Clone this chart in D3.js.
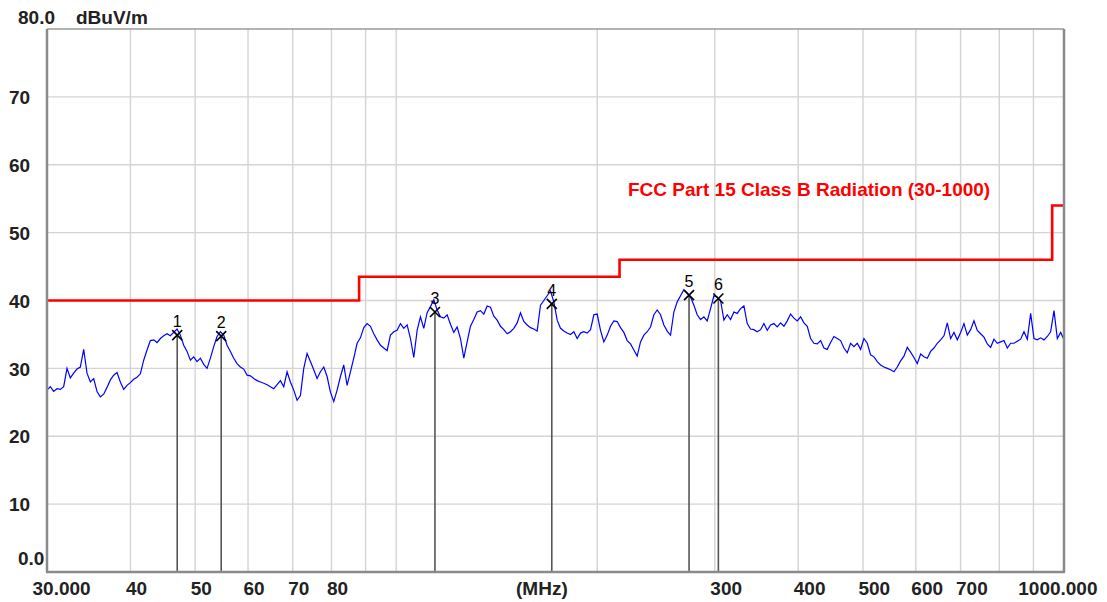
<!DOCTYPE html>
<html><head><meta charset="utf-8">
<script src="https://cdn.jsdelivr.net/npm/d3@7"></script>
<style>
html,body{margin:0;padding:0;background:#fff;}
svg{display:block;}
text{font-family:"Liberation Sans",Arial,sans-serif;}
</style></head>
<body>
<svg id="chart" width="1107" height="602"></svg>
<script>
// ---- data ----
const startFreq = 30, stopFreq = 1000;           // MHz sweep
const levelMin = 0, levelMax = 80;               // dBuV/m
const traceLevels = [
26.8,27.3,26.6,27.0,26.9,27.3,30.0,28.6,29.3,29.9,30.2,32.8,29.3,28.0,28.5,26.6,25.8,26.2,27.2,28.3,
29.0,29.4,28.0,26.9,27.5,27.9,28.4,28.7,29.2,31.2,32.7,34.1,34.2,33.8,34.4,34.8,35.1,34.8,35.3,35.8,
34.9,33.4,32.5,31.2,31.7,31.0,31.5,30.6,30.0,31.5,33.2,34.7,35.4,34.9,33.4,32.5,31.5,30.7,30.2,29.9,
29.0,28.9,28.5,28.2,28.0,27.8,27.6,27.3,27.0,27.6,28.2,27.3,29.5,28.0,26.8,25.3,26.0,30.0,32.2,31.0,
29.8,28.5,29.5,30.2,28.8,26.5,25.1,26.8,28.8,30.5,27.5,29.5,31.5,33.7,34.5,36.0,36.6,36.2,35.1,34.2,
33.4,33.0,32.6,34.9,35.4,35.6,36.6,35.9,36.4,34.4,31.6,35.6,37.6,35.9,38.2,39.1,40.1,38.6,37.6,37.4,
37.9,36.5,35.3,36.1,34.4,31.5,33.9,36.2,37.2,38.3,38.5,38.0,39.2,39.0,37.7,37.1,36.2,35.7,35.1,35.4,
35.9,36.7,38.2,36.9,36.4,36.0,35.8,35.5,39.3,40.0,40.7,41.4,39.8,37.1,35.9,35.5,35.2,35.0,35.4,34.4,
35.2,35.4,35.2,35.7,37.9,38.0,35.6,33.9,34.9,36.2,37.0,36.9,36.0,35.3,34.1,33.6,32.7,31.8,33.9,34.9,
35.4,36.1,37.9,38.6,37.9,36.4,35.5,34.9,38.3,39.8,40.7,41.6,41.1,40.5,39.3,37.9,37.2,37.6,37.0,38.8,
40.7,40.5,40.0,37.1,37.9,37.2,38.3,38.1,38.8,39.2,36.6,35.8,35.7,35.4,35.7,36.6,35.6,36.4,36.6,36.1,
36.7,36.2,37.0,38.0,37.4,37.0,37.6,36.7,36.2,34.4,33.7,33.6,34.1,33.0,32.8,33.8,34.7,34.4,34.1,33.0,
32.3,33.7,33.2,33.7,32.8,34.4,33.7,32.0,31.7,31.0,30.5,30.2,30.0,29.8,29.5,30.2,31.1,31.8,33.1,32.4,
31.6,30.7,32.1,31.7,31.5,32.5,33.0,33.7,34.2,34.8,36.7,34.4,35.3,34.2,35.3,36.6,34.9,35.7,37.0,35.6,
35.1,34.6,33.6,33.1,34.3,33.7,33.9,34.1,33.0,33.7,33.7,34.0,34.3,35.4,34.3,38.1,34.4,34.2,34.5,34.2,
34.7,35.4,38.5,34.4,35.3,34.2
];
const limitFreqs  = [30, 88, 216, 960, 1000];
const limitLevels = [40, 43.5, 46, 54, 54];
const limitName = "FCC Part 15 Class B Radiation (30-1000)";
const markerIds    = ["1","2","3","4","5","6"];
const markerFreqs  = [47.0, 54.7, 114.3, 171.0, 274.5, 303.7];
const markerLevels = [34.9, 34.75, 38.3, 39.5, 40.8, 40.3];
const xGridFreqs = [40,50,60,70,80,90,100,200,300,400,500,600,700,800,900];
const yGridLevels = [10,20,30,40,50,60,70];
const xTickFreqs  = [30,40,50,60,70,80,300,400,500,600,700,1000];
const xTickLabels = ["30.000","40","50","60","70","80","300","400","500","600","700","1000.000"];
const yTickLevels = [0,10,20,30,40,50,60,70,80];
const yTickLabels = ["0.0","10","20","30","40","50","60","70","80.0"];
const yUnit = "dBuV/m";
const xUnit = "(MHz)";

// ---- layout ----
const L = 47, R = 1064, T = 29, B = 572;
const svg = d3.select("#chart");
const x = d3.scaleLog().domain([startFreq, stopFreq]).range([L, R]);
const y = d3.scaleLinear().domain([levelMin, levelMax]).range([B, T]);

// grid
svg.append("g").selectAll("line").data(xGridFreqs).join("line")
  .attr("x1", d => x(d)).attr("x2", d => x(d)).attr("y1", T).attr("y2", B)
  .attr("stroke", "#d4d4d4").attr("stroke-width", 1.4);
svg.append("g").selectAll("line").data(yGridLevels).join("line")
  .attr("x1", L).attr("x2", R).attr("y1", d => y(d)).attr("y2", d => y(d))
  .attr("stroke", "#d4d4d4").attr("stroke-width", 1.4);

// marker stems
svg.append("g").selectAll("line").data(markerFreqs).join("line")
  .attr("x1", d => x(d)).attr("x2", d => x(d))
  .attr("y1", (d,i) => y(markerLevels[i])).attr("y2", B)
  .attr("stroke", "#555").attr("stroke-width", 1.6);

// limit line
const limitPts = limitFreqs.map((f,i) => [f, limitLevels[i]]);
svg.append("path").datum(limitPts)
  .attr("d", d3.line().x(d => x(d[0])).y(d => y(d[1])).curve(d3.curveStepAfter))
  .attr("fill", "none").attr("stroke", "#ff0000").attr("stroke-width", 2.6);

// trace
const n = traceLevels.length;
const tracePts = traceLevels.map((v,i) => [startFreq * Math.pow(stopFreq/startFreq, i/(n-1)), v]);
svg.append("path").datum(tracePts)
  .attr("d", d3.line().x(d => x(d[0])).y(d => y(d[1])))
  .attr("fill", "none").attr("stroke", "#0000ff").attr("stroke-width", 1.2);

// markers X and labels
const mk = svg.append("g").selectAll("g").data(markerFreqs).join("g")
  .attr("transform", (d,i) => `translate(${x(d)},${y(markerLevels[i])})`);
mk.append("path").attr("d", "M-5,-5L5,5M-5,5L5,-5")
  .attr("stroke", "#000").attr("stroke-width", 1.6).attr("fill", "none");
mk.append("text").text((d,i) => markerIds[i])
  .attr("x", 0).attr("y", -8).attr("text-anchor", "middle")
  .attr("font-size", 16).attr("fill", "#000");

// frame
svg.append("line").attr("x1", L).attr("x2", R).attr("y1", T).attr("y2", T).attr("stroke", "#9a9a9a").attr("stroke-width", 1.5);
svg.append("line").attr("x1", L).attr("x2", L).attr("y1", T).attr("y2", B).attr("stroke", "#8a8a8a").attr("stroke-width", 2.5);
svg.append("line").attr("x1", R).attr("x2", R).attr("y1", T).attr("y2", B).attr("stroke", "#8a8a8a").attr("stroke-width", 2.5);
svg.append("line").attr("x1", L-1).attr("x2", R+1).attr("y1", B).attr("y2", B).attr("stroke", "#8a8a8a").attr("stroke-width", 2.5);

// axes (labels only)
const fontSpec = g => g.selectAll("text").attr("font-size", 19).attr("font-weight", "bold")
  .attr("fill", "#222").attr("font-family", "Liberation Sans, Arial, sans-serif");
const xAxis = svg.append("g").attr("transform", `translate(0,${B})`)
  .call(d3.axisBottom(x).tickValues(xTickFreqs).tickFormat((d,i) => xTickLabels[i]).tickSize(0).tickPadding(0));
xAxis.select(".domain").remove();
xAxis.call(fontSpec);
xAxis.selectAll("text").attr("dy", null).attr("y", 23)
  .attr("text-anchor", (d,i) => i === xTickFreqs.length-1 ? "end" : "start")
  .attr("x", (d,i) => i === 0 ? -15 : (i === xTickFreqs.length-1 ? 33 : -5));
svg.append("text").text(xUnit).attr("x", 516).attr("y", B+23)
  .attr("font-size", 19).attr("font-weight", "bold").attr("fill", "#222");

const yAxis = svg.append("g").attr("transform", `translate(${L},0)`)
  .call(d3.axisLeft(y).tickValues(yTickLevels).tickFormat((d,i) => yTickLabels[i]).tickSize(0).tickPadding(0));
yAxis.select(".domain").remove();
yAxis.call(fontSpec);
yAxis.selectAll("text").attr("text-anchor", "start").attr("dy", "0.35em")
  .attr("x", (d,i) => (i === 0 || i === yTickLevels.length-1) ? 18 - L : 9 - L)
  .attr("y", (d,i) => i === 0 ? -14 : (i === yTickLevels.length-1 ? -12 : 0));
svg.append("text").text(yUnit).attr("x", 76).attr("y", 17).attr("dy", "0.35em")
  .attr("font-size", 19).attr("font-weight", "bold").attr("fill", "#222");

// limit label
svg.append("text").text(limitName).attr("x", 628).attr("y", 196)
  .attr("font-size", 19).attr("font-weight", "bold").attr("fill", "#ff0000");
</script>
</body></html>
